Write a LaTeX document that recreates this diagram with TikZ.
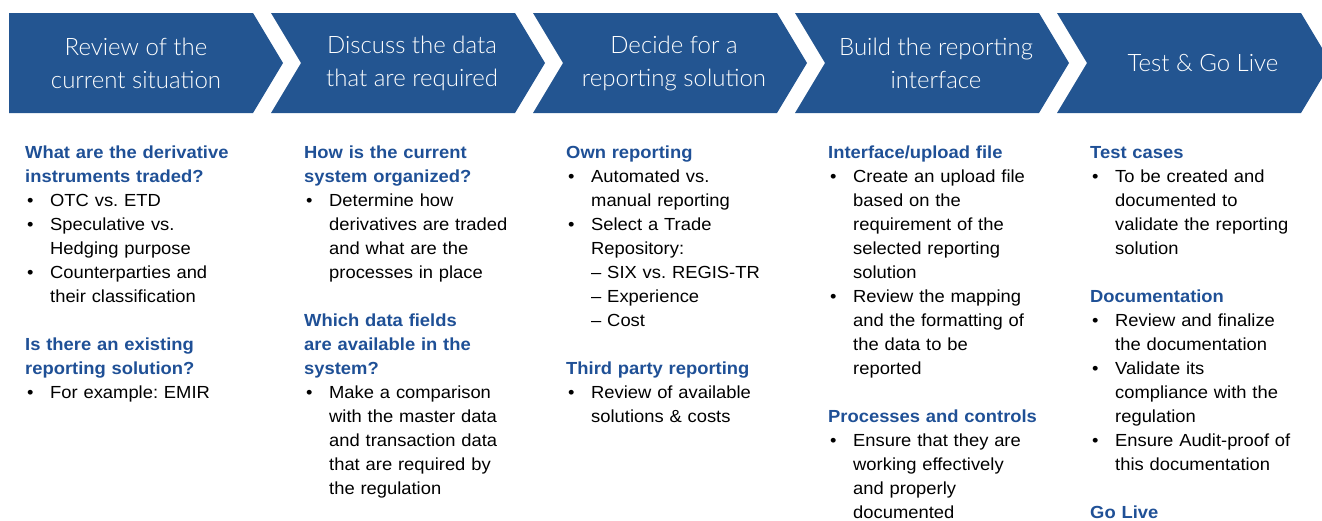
\documentclass[tikz,border=0pt]{standalone}
\usepackage{fontspec}
\setmainfont{Liberation Sans}[FakeStretch=1.05]
\newfontfamily\titlefont{Lato Light}
\usetikzlibrary{positioning}
\definecolor{chevblue}{RGB}{35,85,145}
\definecolor{headblue}{RGB}{31,80,150}
\setlength{\parindent}{0pt}
\frenchspacing
\newcommand{\hd}[1]{{\bfseries\color{headblue}#1}}
\newcommand{\itm}{\makebox[25pt][l]{\hspace{2pt}\textbullet}}
\newcommand{\cnt}{\hspace*{25pt}}

\begin{document}
\begin{tikzpicture}[x=1pt,y=-1pt,
  steptitle/.style={text=white,font=\titlefont\fontsize{24}{33}\selectfont,align=center,inner sep=0pt},
  column/.style={anchor=north west,inner sep=0pt,text width=250pt,align=left,font=\fontsize{17.5}{24}\selectfont}]
  \useasboundingbox (0,0) rectangle (1322,520);
  \clip (0,0) rectangle (1322,520);

  % chevrons
  \fill[chevblue] (9,13) -- (253,13) -- (283,63) -- (253,113) -- (9,113) -- cycle;
  \foreach \i in {1,...,4}{
    \pgfmathsetmacro\L{9+262*\i}
    \fill[chevblue] (\L,13) -- ++(244,0) -- ++(30,50) -- ++(-30,50) -- ++(-244,0) -- ++(30,-50) -- cycle;
  }

  \node[steptitle] (review)  at (136,63)  {Review of the\\current situation};
  \node[steptitle] (discuss) at (412,63)  {Discuss the data\\that are required};
  \node[steptitle] (decide)  at (674,63)  {Decide for a\\reporting solution};
  \node[steptitle] (build)   at (936,63)  {Build the reporting\\interface};
  \node[steptitle] (golive)  at (1203,63) {Test \& Go Live};

  % columns
  \node[column] (current) at (25,146) {%
    \hd{What are the derivative}\\
    \hd{instruments traded?}\\
    \itm OTC vs. ETD\\
    \itm Speculative vs.\\
    \cnt Hedging purpose\\
    \itm Counterparties and\\
    \cnt their classification\\[24pt]
    \hd{Is there an existing}\\
    \hd{reporting solution?}\\
    \itm For example: EMIR};

  \node[column] (data) at (304,146) {%
    \hd{How is the current}\\
    \hd{system organized?}\\
    \itm Determine how\\
    \cnt derivatives are traded\\
    \cnt and what are the\\
    \cnt processes in place\\[24pt]
    \hd{Which data fields}\\
    \hd{are available in the}\\
    \hd{system?}\\
    \itm Make a comparison\\
    \cnt with the master data\\
    \cnt and transaction data\\
    \cnt that are required by\\
    \cnt the regulation};

  \node[column] (solution) at (566,146) {%
    \hd{Own reporting}\\
    \itm Automated vs.\\
    \cnt manual reporting\\
    \itm Select a Trade\\
    \cnt Repository:\\
    \cnt -- SIX vs. REGIS-TR\\
    \cnt -- Experience\\
    \cnt -- Cost\\[24pt]
    \hd{Third party reporting}\\
    \itm Review of available\\
    \cnt solutions \& costs};

  \node[column] (interface) at (828,146) {%
    \hd{Interface/upload file}\\
    \itm Create an upload file\\
    \cnt based on the\\
    \cnt requirement of the\\
    \cnt selected reporting\\
    \cnt solution\\
    \itm Review the mapping\\
    \cnt and the formatting of\\
    \cnt the data to be\\
    \cnt reported\\[24pt]
    \hd{Processes and controls}\\
    \itm Ensure that they are\\
    \cnt working effectively\\
    \cnt and properly\\
    \cnt documented};

  \node[column] (testing) at (1090,146) {%
    \hd{Test cases}\\
    \itm To be created and\\
    \cnt documented to\\
    \cnt validate the reporting\\
    \cnt solution\\[24pt]
    \hd{Documentation}\\
    \itm Review and finalize\\
    \cnt the documentation\\
    \itm Validate its\\
    \cnt compliance with the\\
    \cnt regulation\\
    \itm Ensure Audit-proof of\\
    \cnt this documentation\\[24pt]
    \hd{Go Live}};
\end{tikzpicture}
\end{document}
